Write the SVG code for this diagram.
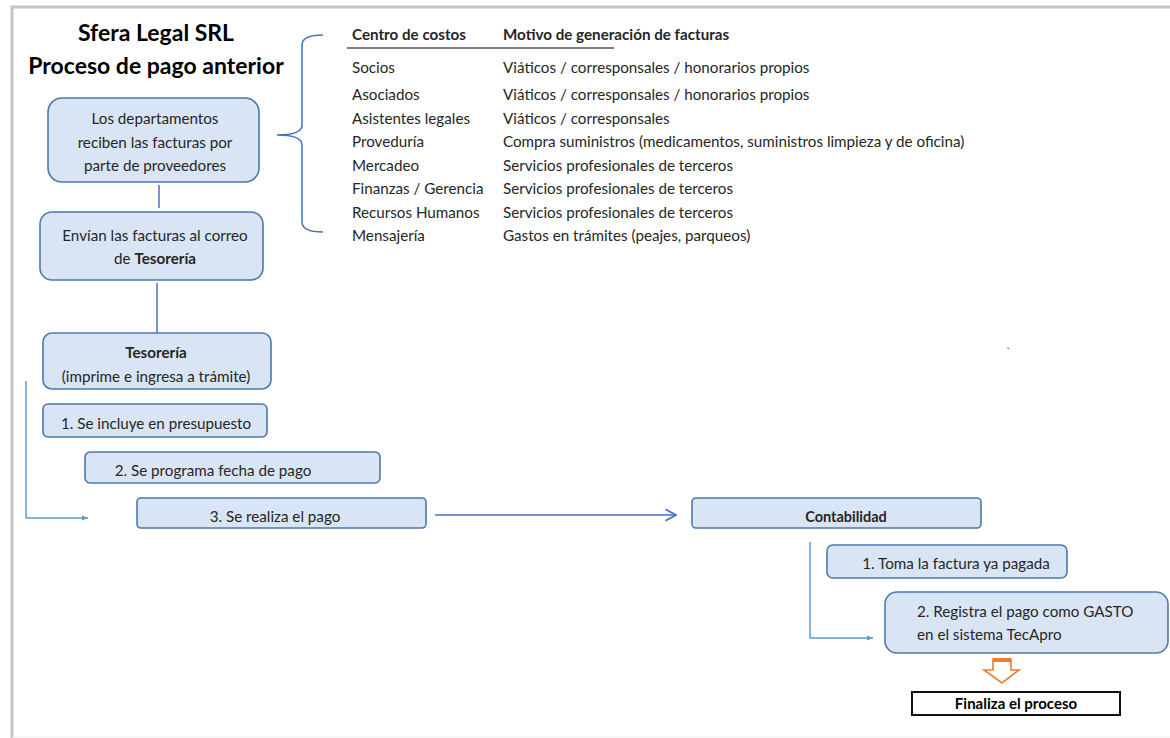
<svg xmlns="http://www.w3.org/2000/svg" width="1170" height="738" viewBox="0 0 1170 738">
<style>
text{font-family:Lato,"Open Sans","Liberation Sans",sans-serif;fill:#262626}
.t{font-size:15.2px}
.c{text-anchor:middle}
.b{font-weight:bold}
.title{font-size:23px;font-weight:bold;fill:#000;text-anchor:middle}
.box{fill:#d9e5f4;stroke:#4d79aa;stroke-width:1.6}
.ln{fill:none;stroke:#4472c4;stroke-width:1.5}
.ln2{fill:none;stroke:#5b9bd5;stroke-width:1.5}
</style>
<defs>
<marker id="tri" viewBox="0 0 10 10" refX="10" refY="5" markerWidth="6" markerHeight="6" orient="auto" markerUnits="userSpaceOnUse">
<path d="M0,1 L10,5 L0,9 Z" fill="#5b9bd5"/>
</marker>
<marker id="chev" viewBox="0 0 12 12" refX="11" refY="6" markerWidth="14" markerHeight="14" orient="auto" markerUnits="userSpaceOnUse">
<path d="M2,1 L11,6 L2,11" fill="none" stroke="#4472c4" stroke-width="1.5"/>
</marker>
</defs>
<rect width="1170" height="738" fill="#fff"/>
<path d="M12,738 V7 H1170" fill="none" stroke="#c4c4c4" stroke-width="3"/>
<line x1="12" y1="737" x2="1170" y2="737" stroke="#eeeeee" stroke-width="1"/>

<g id="title">
<text class="title" x="156" y="41">Sfera Legal SRL</text>
<text class="title" x="156" y="74">Proceso de pago anterior</text>
</g>

<g id="connectors">
<line class="ln" x1="159" y1="185" x2="159" y2="208"/>
<line class="ln" x1="157" y1="283" x2="157" y2="333"/>
<path class="ln2" d="M26,381 V518 H88" marker-end="url(#tri)"/>
<line class="ln" x1="435" y1="515" x2="676" y2="515" marker-end="url(#chev)"/>
<path class="ln2" d="M810,542 V638 H873" marker-end="url(#tri)"/>
<path class="ln" d="M323,35 Q302,35 302,45 V125 Q302,135 277,135 Q302,135 302,145 V222 Q302,232 323,232"/>
</g>

<g id="node-departamentos">
<rect class="box" x="48" y="98" width="211" height="84" rx="14"/>
<text class="t c" x="155" y="124">Los departamentos</text>
<text class="t c" x="155" y="148">reciben las facturas por</text>
<text class="t c" x="155" y="171">parte de proveedores</text>
</g>

<g id="node-envian">
<rect class="box" x="40" y="212" width="223" height="68" rx="12"/>
<text class="t c" x="155" y="241">Envían las facturas al correo</text>
<text class="t c" x="155" y="264">de <tspan class="b">Tesorería</tspan></text>
</g>

<g id="node-tesoreria">
<rect class="box" x="43" y="333" width="228" height="56" rx="9"/>
<text class="t c b" x="156" y="358">Tesorería</text>
<text class="t c" x="156" y="382">(imprime e ingresa a trámite)</text>
</g>

<g id="node-paso1">
<rect class="box" x="43" y="404" width="224" height="33" rx="5"/>
<text class="t c" x="156" y="429">1. Se incluye en presupuesto</text>
</g>

<g id="node-paso2">
<rect class="box" x="85" y="452" width="295" height="31" rx="5"/>
<text class="t c" x="213" y="476">2. Se programa fecha de pago</text>
</g>

<g id="node-paso3">
<rect class="box" x="137" y="498" width="289" height="30" rx="4"/>
<text class="t c" x="275" y="522">3. Se realiza el pago</text>
</g>

<g id="node-contabilidad">
<rect class="box" x="692" y="498" width="289" height="30" rx="4"/>
<text class="t c b" x="846" y="522" style="font-size:14.5px">Contabilidad</text>
</g>

<g id="node-toma">
<rect class="box" x="827" y="545" width="240" height="33" rx="6"/>
<text class="t c" x="956" y="569">1. Toma la factura ya pagada</text>
</g>

<g id="node-registra">
<rect class="box" x="885" y="592" width="283" height="61" rx="12"/>
<text class="t" x="917" y="617">2. Registra el pago como GASTO</text>
<text class="t" x="917" y="640">en el sistema TecApro</text>
</g>

<g id="orange-arrow">
<path d="M993,659 H1011 V670 H1019 L1002,683 L984,670 H993 Z" fill="#fff" stroke="#ed7d31" stroke-width="1.6"/>
<rect x="993" y="658" width="18" height="4" fill="#ed7d31"/>
</g>

<g id="node-finaliza">
<rect x="912" y="692" width="208" height="23" fill="#fff" stroke="#111" stroke-width="2"/>
<text class="c b" x="1016" y="709" style="font-size:15px;fill:#000">Finaliza el proceso</text>
</g>

<g id="table">
<text class="t b" x="352" y="40">Centro de costos</text>
<text class="t b" x="503" y="40">Motivo de generación de facturas</text>
<line x1="347" y1="48" x2="614" y2="48" stroke="#000" stroke-width="1.2"/>
<text class="t" x="352" y="73">Socios</text>
<text class="t" x="503" y="73">Viáticos / corresponsales / honorarios propios</text>
<text class="t" x="352" y="100">Asociados</text>
<text class="t" x="503" y="100">Viáticos / corresponsales / honorarios propios</text>
<text class="t" x="352" y="124">Asistentes legales</text>
<text class="t" x="503" y="124">Viáticos / corresponsales</text>
<text class="t" x="352" y="147">Proveduría</text>
<text class="t" x="503" y="147">Compra suministros (medicamentos, suministros limpieza y de oficina)</text>
<text class="t" x="352" y="171">Mercadeo</text>
<text class="t" x="503" y="171">Servicios profesionales de terceros</text>
<text class="t" x="352" y="194">Finanzas / Gerencia</text>
<text class="t" x="503" y="194">Servicios profesionales de terceros</text>
<text class="t" x="352" y="218">Recursos Humanos</text>
<text class="t" x="503" y="218">Servicios profesionales de terceros</text>
<text class="t" x="352" y="241">Mensajería</text>
<text class="t" x="503" y="241">Gastos en trámites (peajes, parqueos)</text>
</g>

<text x="1006" y="356" style="font-size:12px;fill:#333">`</text>
</svg>
